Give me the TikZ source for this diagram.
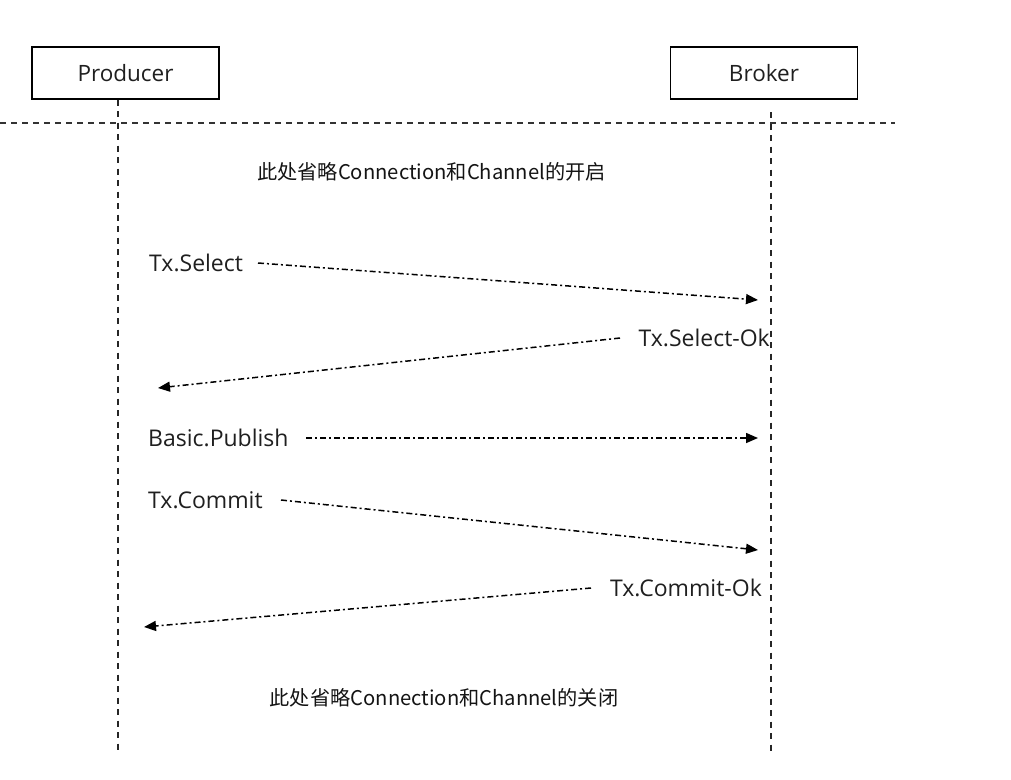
\documentclass[tikz,border=0pt]{standalone}
\usepackage{fontspec}
\setmainfont{Open Sans}
\newfontfamily\cjk{Noto Sans CJK SC}
\usetikzlibrary{arrows.meta}
\begin{document}
\begin{tikzpicture}[x=1pt,y=-1pt,
  actor/.style={draw=black,line width=1.1pt,minimum width=187pt,minimum height=52pt,inner sep=0pt,font=\fontsize{22.5}{24}\selectfont,text=black!88},
  life/.style={draw=black!85,line width=1.1pt,dash pattern=on 6pt off 5.5pt},
  sep/.style={draw=black!80,line width=1.1pt,dash pattern=on 6pt off 5pt},
  lbl/.style={inner sep=0pt,font=\fontsize{23}{25}\selectfont,text=black!88},
  note/.style={inner sep=0pt,font=\cjk\fontsize{20.2}{22}\selectfont,text=black!92},
  msg/.style={draw=black,line width=1.5pt,dash pattern=on 6pt off 3pt on 2pt off 3pt,-{Triangle[length=12pt,width=10pt]}}]
\useasboundingbox (0,0) rectangle (1011,779);
\fill[white] (0,0) rectangle (1011,779);
% actors
\node[actor] (prod) at (125.5,73) {Producer};
\node[actor] (brok) at (764,73) {Broker};
% lifelines
\coordinate (prodEnd) at (118,752);
\coordinate (brokTop) at (771,112);
\coordinate (brokEnd) at (771,752);
\draw[life] (prod.south -| prodEnd) -- (prodEnd);
\draw[life] (brokTop) -- (brokEnd);
% separator
\coordinate (sepL) at (0,123);
\coordinate (sepR) at (895,123);
\draw[sep] (sepL) -- (sepR);
% notes
\node[note] (open) at (431.5,172) {此处省略Connection和Channel的开启};
\node[note] (close) at (444,698) {此处省略Connection和Channel的关闭};
% labels
\node[lbl,anchor=west] (sel) at (149,263) {Tx.Select};
\node[lbl,anchor=east] (selok) at (770,338) {Tx.Select-Ok};
\node[lbl,anchor=west] (pub) at (148,438) {Basic.Publish};
\node[lbl,anchor=west] (com) at (148,500) {Tx.Commit};
\node[lbl,anchor=east] (comok) at (762,588) {Tx.Commit-Ok};
% message ends
\coordinate (selS) at (258,263);
\coordinate (selE) at (758,300);
\coordinate (selokS) at (620,338);
\coordinate (selokE) at (158,388);
\coordinate (pubS) at (306,438);
\coordinate (pubE) at (758,438);
\coordinate (comS) at (281,500);
\coordinate (comE) at (758,550);
\coordinate (comokS) at (591,588);
\coordinate (comokE) at (144,627);
\draw[msg] (selS) -- (selE);
\draw[msg] (selokS) -- (selokE);
\draw[msg] (pubS) -- (pubE);
\draw[msg] (comS) -- (comE);
\draw[msg] (comokS) -- (comokE);
\end{tikzpicture}
\end{document}
